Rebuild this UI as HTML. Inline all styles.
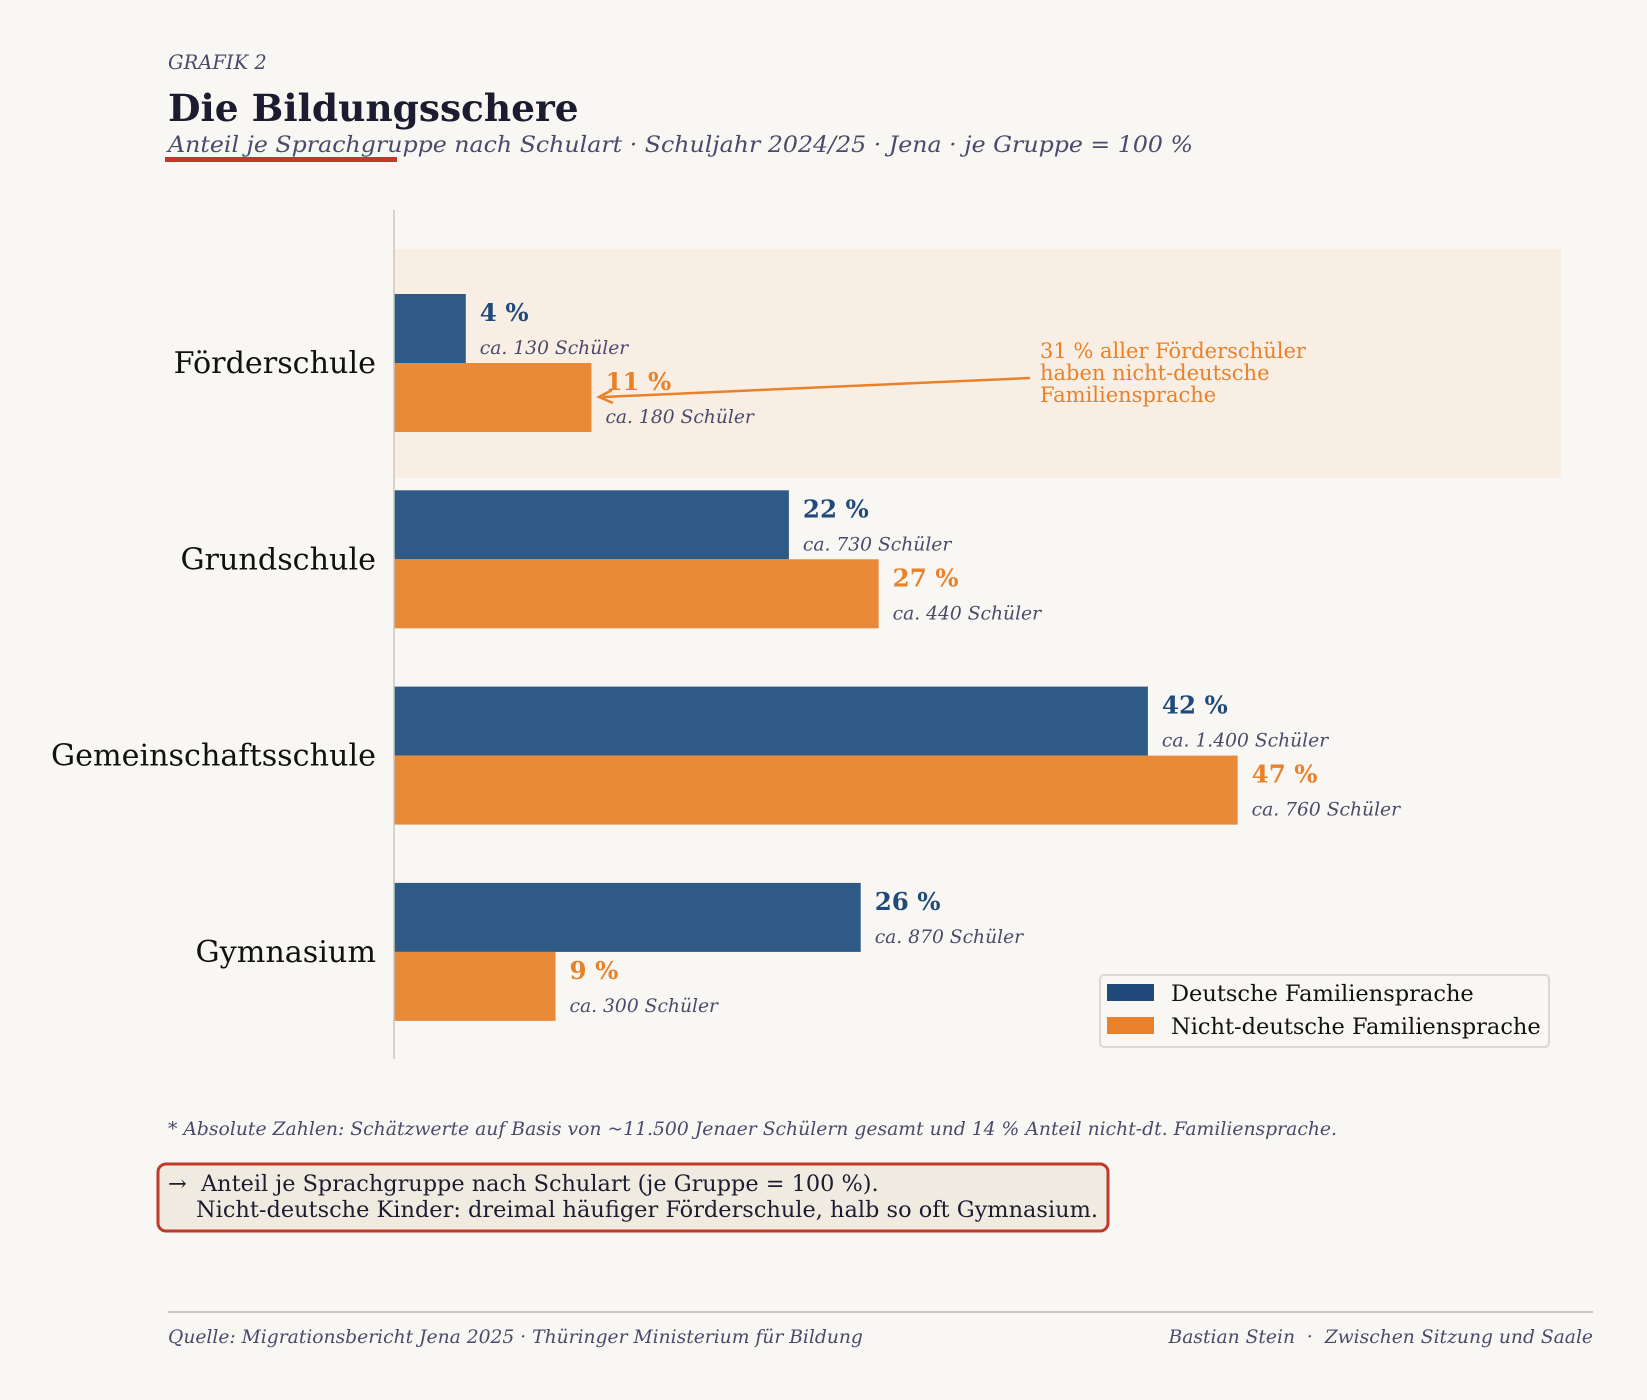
<!DOCTYPE html>
<html><head><meta charset="utf-8"><style>
body{margin:0;background:#f9f7f3;}
svg{display:block;font-family:"DejaVu Serif","Liberation Serif",serif;}
</style></head><body>
<svg id="c" width="1647" height="1400" viewBox="0 0 1647 1400" xmlns="http://www.w3.org/2000/svg">
<rect width="1647" height="1400" fill="#f9f7f3"/>
<text x="168" y="69" font-size="19.5" font-style="italic" fill="#4a4a6a">GRAFIK 2</text>
<text x="168" y="121" font-size="37.5" font-weight="bold" fill="#1c1c30">Die Bildungsschere</text>
<text x="168" y="152" font-size="22.5" font-style="italic" fill="#4a4a6a" textLength="1025" lengthAdjust="spacingAndGlyphs">Anteil je Sprachgruppe nach Schulart · Schuljahr 2024/25 · Jena · je Gruppe = 100 %</text>
<rect x="165" y="157" width="232" height="5" fill="#c0392b"/>
<rect x="394" y="249" width="1167" height="229" fill="#f8eee4"/>
<g id="bars"></g>
<line x1="394" y1="210" x2="394" y2="1059" stroke="#ccc6bd" stroke-width="1.5"/>
<line x1="1030" y1="378" x2="603" y2="397" stroke="#e8812a" stroke-width="2.5"/>
<path d="M612,390 L599,397 L613,403" fill="none" stroke="#e8812a" stroke-width="2.5"/>
<g font-size="21" fill="#e8812a">
<text x="1040" y="358">31 % aller Förderschüler</text>
<text x="1040" y="380">haben nicht-deutsche</text>
<text x="1040" y="402">Familiensprache</text>
</g>
<g>
<rect x="1100" y="975" width="449" height="72" rx="4" fill="#f9f7f3" stroke="#dcd8d2" stroke-width="2"/>
<rect x="1107" y="984" width="47" height="17" fill="#1f4a7a"/>
<text x="1171" y="1001" font-size="22.5" fill="#111">Deutsche Familiensprache</text>
<rect x="1107" y="1017" width="47" height="17" fill="#e8812a"/>
<text x="1171" y="1034" font-size="22.5" fill="#111">Nicht-deutsche Familiensprache</text>
</g>
<text x="168" y="1135" font-size="18.5" font-style="italic" fill="#4a4a6a" textLength="1169" lengthAdjust="spacingAndGlyphs">* Absolute Zahlen: Schätzwerte auf Basis von ~11.500 Jenaer Schülern gesamt und 14 % Anteil nicht-dt. Familiensprache.</text>
<rect x="158" y="1164" width="950" height="67" rx="8" fill="#f0ebe1" stroke="#c0392b" stroke-width="3"/>
<text x="168" y="1191" font-size="22.4" fill="#1c1c30" xml:space="preserve">→  Anteil je Sprachgruppe nach Schulart (je Gruppe = 100 %).</text>
<text x="196" y="1217" font-size="22" fill="#1c1c30" textLength="902" lengthAdjust="spacingAndGlyphs">Nicht-deutsche Kinder: dreimal häufiger Förderschule, halb so oft Gymnasium.</text>
<line x1="168" y1="1312" x2="1593" y2="1312" stroke="#ccc6bd" stroke-width="2"/>
<text x="168" y="1343" font-size="18.7" font-style="italic" fill="#4a4a6a">Quelle: Migrationsbericht Jena 2025 · Thüringer Ministerium für Bildung</text>
<text x="1593" y="1343" font-size="18.7" font-style="italic" fill="#4a4a6a" text-anchor="end" xml:space="preserve">Bastian Stein  ·  Zwischen Sitzung und Saale</text>
</svg>
<script>
const categories = ["Förderschule","Grundschule","Gemeinschaftsschule","Gymnasium"];
const deutschValues = [4,22,42,26];
const nichtDeutschValues = [11,27,47,9];
const deutschCounts = ["ca. 130 Schüler","ca. 730 Schüler","ca. 1.400 Schüler","ca. 870 Schüler"];
const nichtDeutschCounts = ["ca. 180 Schüler","ca. 440 Schüler","ca. 760 Schüler","ca. 300 Schüler"];

const NS="http://www.w3.org/2000/svg";
const g=document.getElementById('bars');
const x0=394, pxPer=17.95, firstCenter=363, step=196.3, barH=69;
function xScale(v){return x0+v*pxPer;}
function yCenter(i){return firstCenter+i*step;}
function mk(tag,attrs){const e=document.createElementNS(NS,tag);for(const k in attrs)e.setAttribute(k,attrs[k]);g.appendChild(e);return e;}
categories.forEach((c,i)=>{
  const cy=yCenter(i);
  const lab=mk('text',{x:376,y:cy+10,'font-size':30.2,'text-anchor':'end',fill:'#111'});
  lab.textContent=c;
  
  
  const series=[[deutschValues[i],deutschCounts[i],'#2f5a85','#1f4a7a',cy-barH,'bar-deutsch'],[nichtDeutschValues[i],nichtDeutschCounts[i],'#e88a37','#e8812a',cy,'bar-nicht-deutsch']];
  series.forEach(([v,cnt,fill,tc,top,nm])=>{
    const r=mk('rect',{x:x0,y:top,width:xScale(v)-x0,height:barH,fill:fill});
    
    
    const t=mk('text',{x:xScale(v)+14,y:top+27,'font-size':24.5,'font-weight':'bold',fill:tc});
    t.textContent=v+' %';
    
    
    const s=mk('text',{x:xScale(v)+14,y:top+60,'font-size':18.7,'font-style':'italic',fill:'#4a4a6a'});
    s.textContent=cnt;
    
    
  });
});
</script>
</body></html>
